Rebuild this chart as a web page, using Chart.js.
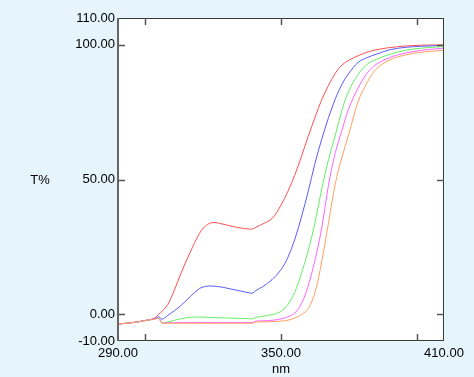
<!DOCTYPE html>
<html>
<head>
<meta charset="utf-8">
<script src="https://cdn.jsdelivr.net/npm/chart.js@4/dist/chart.umd.min.js"></script>
<style>
    body { margin: 0; background: #e6f4fb; }
    #spectrumChart { display: block; }
</style>
</head>
<body>
<canvas id="spectrumChart" width="474" height="377"></canvas>
<script>
// wavelength grid (nm) shared by all spectra
const wavelengths = [290, 295.8, 300, 303.3, 305, 306.2, 308.3, 310.8, 313.3, 316.6, 320, 322.5, 325, 328.3, 331.6, 335, 338.3, 339.6, 340.8, 343.3, 346.7, 350, 352.5, 355, 357.5, 360, 362.5, 365, 367.5, 370, 372.5, 375, 378.4, 381.7, 385, 390, 395.9, 401.7, 410];

const redT = [-3.7, -3.1, -2.4, -1.6, 0.0, 1.0, 3.5, 9, 15.5, 23, 30, 33, 34, 33.5, 32.7, 32.0, 31.6, 31.6, 32.3, 33.5, 35.5, 40.5, 45.5, 51.5, 58.5, 66, 73, 79.7, 85, 89.5, 92.6, 94.3, 96, 97.3, 98.2, 99, 99.6, 99.9, 100];
const blueT = [-3.7, -3.1, -2.4, -1.7, -1.0, -1.9, -0.5, 1.3, 3.3, 6.5, 9.5, 10.3, 10.4, 10.0, 9.3, 8.6, 7.9, 7.8, 8.8, 10.2, 12.8, 16.5, 21, 27.5, 36, 45.5, 56, 65, 73, 80, 85.5, 89.5, 93.5, 95.3, 96.5, 98.2, 99.1, 99.5, 99.8];
const greenT = [-3.7, -3.1, -2.4, -1.9, -1.6, -3.2, -2.9, -2.3, -1.7, -1.2, -1.1, -1.2, -1.3, -1.4, -1.5, -1.6, -1.7, -1.8, -1.2, -0.8, -0.2, 1.0, 3.5, 8, 15, 23.5, 34, 46.5, 57.5, 66.5, 76, 83, 89, 92.8, 94.6, 96.5, 98, 98.8, 99.4];
const magentaT = [-3.7, -3.1, -2.4, -1.9, -1.6, -3.3, -3.2, -3.2, -3.1, -3.1, -3.1, -3.1, -3.1, -3.1, -3.1, -3.1, -3.1, -3.1, -2.6, -2.5, -2.3, -1.8, -1.0, 0.3, 3.8, 10.5, 20, 32, 48, 60, 68.5, 76.5, 84, 89.5, 92.7, 95.3, 97, 98, 98.8];
const orangeT = [-3.7, -3.1, -2.4, -1.9, -1.6, -3.4, -3.4, -3.4, -3.4, -3.4, -3.4, -3.4, -3.4, -3.4, -3.4, -3.4, -3.4, -3.4, -2.9, -2.9, -2.8, -2.6, -2.3, -1.5, -0.2, 2.0, 8, 19.5, 34, 48.5, 58.5, 67, 79, 86, 91, 94.4, 96.3, 97.3, 98];

const xTickLabels = [290, 350, 410];
const yTickLabels = [-10, 0, 50, 100, 110];
const xTickMarks = [300, 350, 400];
const yTickMarks = [0, 50, 100];

function toPoints(values) {
    return wavelengths.map((w, i) => ({ x: w, y: values[i] }));
}

function makeSeries(values, color) {
    return {
        data: toPoints(values),
        borderColor: color,
        borderWidth: 1,
        pointRadius: 0,
        tension: 0.35,
        fill: false
    };
}

// white plot area, frame, inside tick marks and the two axis titles
const framePlugin = {
    id: 'framePlugin',
    beforeDraw(chart) {
        const a = chart.chartArea;
        const c = chart.ctx;
        c.save();
        c.fillStyle = '#ffffff';
        c.fillRect(a.left, a.top, a.right - a.left, a.bottom - a.top);
        c.restore();
    },
    afterDraw(chart) {
        const a = chart.chartArea;
        const c = chart.ctx;
        const xs = chart.scales.x;
        const ys = chart.scales.y;
        c.save();
        c.strokeStyle = '#3a3a3a';
        c.lineWidth = 1;
        c.strokeRect(a.left + 0.5, a.top + 0.5, a.right - a.left - 1, a.bottom - a.top - 1);
        c.strokeStyle = '#666666';
        c.lineWidth = 2;
        c.beginPath();
        c.moveTo(a.left, a.top);
        c.lineTo(a.left, a.bottom);
        c.stroke();

        c.strokeStyle = '#555555';
        c.lineWidth = 1.5;
        c.beginPath();
        xTickMarks.forEach(v => {
            const px = Math.round(xs.getPixelForValue(v)) + 0.5;
            c.moveTo(px, a.bottom);
            c.lineTo(px, a.bottom - 7);
            c.moveTo(px, a.top);
            c.lineTo(px, a.top + 7);
        });
        yTickMarks.forEach(v => {
            const py = Math.round(ys.getPixelForValue(v)) + 0.5;
            c.moveTo(a.left, py);
            c.lineTo(a.left + 7, py);
            c.moveTo(a.right, py);
            c.lineTo(a.right - 7, py);
        });
        c.stroke();

        c.fillStyle = '#000000';
        c.font = '13px "Liberation Sans", Arial, sans-serif';
        c.textAlign = 'center';
        c.textBaseline = 'middle';
        c.fillText('T%', 40, 180);
        c.fillText('nm', (a.left + a.right) / 2, 369);
        c.restore();
    }
};

function renderSpectrumChart() {
    const ctx = document.getElementById('spectrumChart');
    if (!ctx) {
        console.error('Element with id "spectrumChart" not found.');
        return;
    }
    new Chart(ctx.getContext('2d'), {
        type: 'line',
        data: {
            datasets: [
                makeSeries(orangeT, 'rgb(255, 160, 96)'),
                makeSeries(magentaT, 'rgb(255, 100, 255)'),
                makeSeries(greenT, 'rgb(100, 240, 100)'),
                makeSeries(blueT, 'rgb(90, 90, 255)'),
                makeSeries(redT, 'rgb(255, 80, 80)')
            ]
        },
        options: {
            responsive: false,
            animation: false,
            layout: {
                padding: { top: 18, right: 30, left: 0, bottom: 0 }
            },
            plugins: {
                legend: { display: false },
                title: { display: false },
                tooltip: { enabled: false }
            },
            scales: {
                x: {
                    type: 'linear',
                    min: 290,
                    max: 410,
                    border: { display: false },
                    grid: { display: false, drawTicks: false },
                    afterBuildTicks: axis => { axis.ticks = xTickLabels.map(v => ({ value: v })); },
                    afterFit: axis => { axis.height = 36; },
                    ticks: {
                        padding: 5,
                        maxRotation: 0,
                        color: '#000000',
                        font: { family: '"Liberation Sans", Arial, sans-serif', size: 13 },
                        callback: v => v.toFixed(2)
                    }
                },
                y: {
                    min: -10,
                    max: 110,
                    border: { display: false },
                    grid: { display: false, drawTicks: false },
                    afterBuildTicks: axis => { axis.ticks = yTickLabels.map(v => ({ value: v })); },
                    afterFit: axis => { axis.width = 118; },
                    ticks: {
                        padding: 3,
                        color: '#000000',
                        font: { family: '"Liberation Sans", Arial, sans-serif', size: 13 },
                        callback: v => v.toFixed(2)
                    }
                }
            }
        },
        plugins: [framePlugin]
    });
}

renderSpectrumChart();
</script>
</body>
</html>
